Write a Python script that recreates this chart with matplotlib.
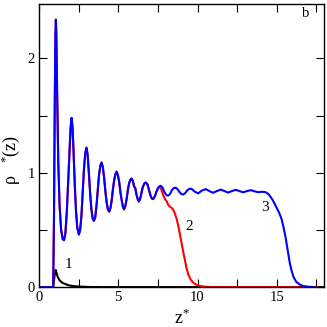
import matplotlib
matplotlib.use('Agg')
import matplotlib.pyplot as plt
from matplotlib.ticker import MultipleLocator

plt.rcParams['font.family'] = ['Liberation Serif', 'DejaVu Serif']
plt.rcParams['mathtext.fontset'] = 'custom'
plt.rcParams['mathtext.rm'] = 'Liberation Serif'
plt.rcParams['mathtext.it'] = 'Liberation Serif:italic'

# curve 3 (blue)
z3 = [0.0, 0.9, 0.95, 1.0, 1.04, 1.07, 1.10, 1.15, 1.22, 1.3, 1.4, 1.5, 1.58,
      1.67, 1.76, 1.85, 1.94, 2.0, 2.06, 2.12, 2.18, 2.26, 2.34, 2.42, 2.52,
      2.6, 2.68, 2.76, 2.84, 2.92, 3.0, 3.07, 3.15, 3.23, 3.31, 3.39, 3.47,
      3.55, 3.63, 3.71, 3.79, 3.87, 3.95, 4.03, 4.11, 4.19, 4.27, 4.35, 4.43,
      4.51, 4.59, 4.67, 4.75, 4.83, 4.9, 4.98, 5.06, 5.14, 5.22, 5.30, 5.37,
      5.45, 5.53, 5.61, 5.69, 5.77, 5.84, 5.92, 6.0, 6.07, 6.15, 6.23, 6.3,
      6.38, 6.46, 6.54, 6.64, 6.74, 6.84, 6.94, 7.04, 7.12, 7.2,
      7.3, 7.4, 7.5, 7.6, 7.69, 7.8, 7.92, 8.04, 8.15, 8.27, 8.39, 8.51, 8.63,
      8.75, 8.87, 8.99, 9.1, 9.22, 9.36, 9.5, 9.62, 9.83, 10.04, 10.28, 10.52,
      10.75, 10.98, 11.22, 11.47, 11.7, 11.93, 12.17, 12.41, 12.64, 12.88,
      13.12, 13.36, 13.6, 13.83, 14.07, 14.3, 14.5, 14.75, 14.97, 15.15, 15.29,
      15.43, 15.56, 15.71, 15.82, 15.92, 16.05, 16.23, 16.45, 16.66, 17.0, 17.4]
rho3 = [0.0, 0.0, 0.6, 1.6, 2.2, 2.34, 2.2, 1.7, 1.1, 0.72, 0.5, 0.42, 0.41,
        0.47, 0.66, 0.93, 1.22, 1.40, 1.48, 1.40, 1.20, 0.90, 0.66, 0.52, 0.46,
        0.50, 0.62, 0.83, 1.03, 1.17, 1.22, 1.16, 1.00, 0.82, 0.68, 0.60, 0.58,
        0.61, 0.71, 0.85, 0.98, 1.06, 1.09, 1.05, 0.96, 0.84, 0.74, 0.68, 0.66,
        0.69, 0.76, 0.86, 0.94, 0.99, 1.01, 0.98, 0.92, 0.83, 0.76, 0.70, 0.68,
        0.71, 0.77, 0.85, 0.91, 0.94, 0.95, 0.93, 0.88, 0.87, 0.81, 0.77, 0.75,
        0.77, 0.82, 0.87, 0.905, 0.915, 0.90, 0.85, 0.80, 0.775, 0.77,
        0.79, 0.83, 0.865, 0.883, 0.886, 0.87, 0.83, 0.805, 0.80, 0.815, 0.85,
        0.867, 0.87, 0.855, 0.83, 0.813, 0.81, 0.822, 0.848, 0.86, 0.86, 0.835,
        0.82, 0.845, 0.857, 0.84, 0.825, 0.84, 0.853, 0.84, 0.827, 0.84, 0.851,
        0.84, 0.829, 0.84, 0.848, 0.838, 0.83, 0.834, 0.83, 0.81, 0.76, 0.70,
        0.65, 0.60, 0.52, 0.43, 0.30, 0.21, 0.15, 0.09, 0.045, 0.022, 0.01,
        0.003, 0.0]

# curve 2 (red): same as curve 3 up to z = 7.2, then its own tail
n_common = z3.index(7.2) + 1
z2 = z3[:n_common] + [7.3, 7.4, 7.5, 7.6, 7.67, 7.75, 7.85, 7.95, 8.04, 8.15,
                      8.25, 8.36, 8.47, 8.57, 8.68, 8.78, 8.88, 8.99, 9.1,
                      9.2, 9.3, 9.41, 9.55, 9.72, 9.9, 10.14, 10.5, 11.0, 17.5]
rho2 = rho3[:n_common] + [0.79, 0.83, 0.86, 0.877, 0.872, 0.84, 0.80, 0.77,
                          0.755, 0.72, 0.705, 0.695, 0.675, 0.645, 0.60, 0.54,
                          0.47, 0.39, 0.31, 0.24, 0.17, 0.115, 0.07, 0.04,
                          0.022, 0.01, 0.003, 0.0, 0.0]

# curve 1 (black)
z1 = [0.0, 0.9, 0.97, 1.03, 1.06, 1.1, 1.18, 1.3, 1.45, 1.64, 1.9, 2.2, 2.6,
      3.2, 4.0, 18.0]
rho1 = [0.0, 0.0, 0.08, 0.14, 0.15, 0.13, 0.09, 0.06, 0.04, 0.028, 0.015,
        0.008, 0.004, 0.001, 0.0, 0.0]

fig = plt.figure(figsize=(3.27, 3.27), dpi=100)
ax = fig.add_axes([0.119, 0.122, 0.873, 0.867])

ax.plot(z1, rho1, color='black', lw=1.5)
ax.plot(z2, rho2, color='red', lw=1.5)
ax.plot(z3, rho3, color='blue', lw=1.5)

ax.set_xlim(0, 18)
ax.set_ylim(0, 2.48)
ax.xaxis.set_major_locator(MultipleLocator(5))
ax.xaxis.set_minor_locator(MultipleLocator(2.5))
ax.yaxis.set_major_locator(MultipleLocator(1))
ax.yaxis.set_minor_locator(MultipleLocator(0.5))
ax.tick_params(which='both', direction='in', top=True, right=True,
               length=5.5, width=0.8, labelsize=10.5, pad=3)
for s in ax.spines.values():
    s.set_linewidth(1.0)

ax.set_xlabel(r'$\mathrm{z^{*}}$', fontsize=13, labelpad=3)
ax.text(-0.098, 0.45, r'$\mathrm{\rho}\quad{}^{*}\mathrm{(z)}$', fontsize=13,
        rotation=90, ha='center', va='center', transform=ax.transAxes)

ax.text(1.6, 0.17, '1', fontsize=11)
ax.text(9.25, 0.5, '2', fontsize=11)
ax.text(14.0, 0.67, '3', fontsize=11)
ax.text(16.6, 2.36, 'b', fontsize=10.5)

fig.savefig('out.png', dpi=100)
